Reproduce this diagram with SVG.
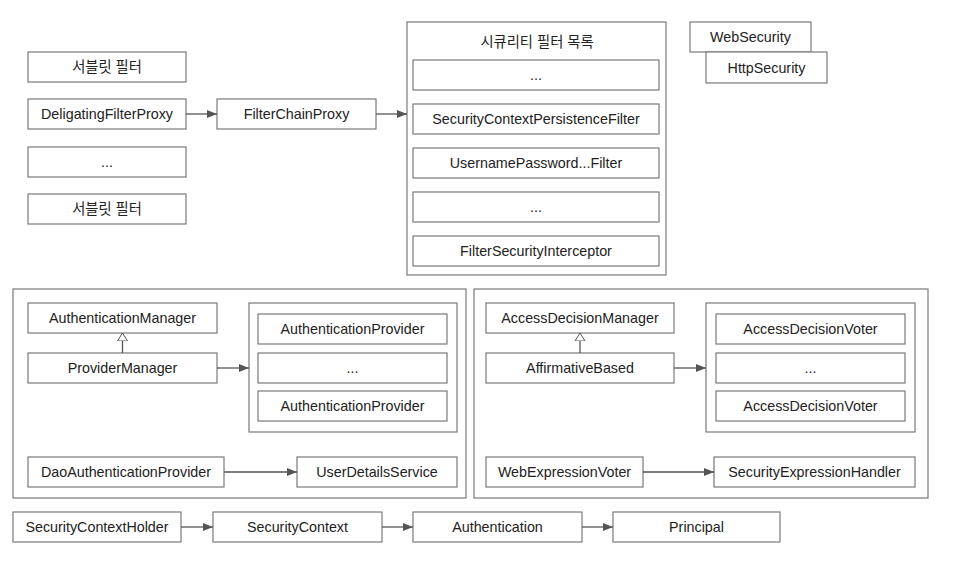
<svg xmlns="http://www.w3.org/2000/svg" width="957" height="574" viewBox="0 0 957 574">
  <style>
    .box { fill: #ffffff; stroke: #7a7a7a; stroke-width: 1.2; }
    .frame { fill: none; stroke: #7a7a7a; stroke-width: 1.2; }
    .lbl { font-family: "Liberation Sans", Arial, "Noto Sans CJK KR", sans-serif; font-size: 14.3px; fill: #222222; text-anchor: middle; dominant-baseline: central; }
    .edge { fill: none; stroke: #555555; stroke-width: 1.3; }
  </style>
  <defs>
    <marker id="arrow" viewBox="0 0 10 8" refX="10" refY="4" markerWidth="10" markerHeight="8" markerUnits="userSpaceOnUse" orient="auto">
      <path d="M0,0 L10,4 L0,8 Z" fill="#555555"/>
    </marker>
    <marker id="inherit" viewBox="0 0 8 12" refX="8" refY="6" markerWidth="8" markerHeight="12" markerUnits="userSpaceOnUse" orient="auto">
      <path d="M0,1 L8,6 L0,11 Z" fill="#ffffff" stroke="#555555" stroke-width="1"/>
    </marker>
  </defs>

  <rect width="957" height="574" fill="#ffffff"/>

  <!-- servlet filter chain -->
  <g id="servlet-filter-1"><rect class="box" x="28" y="52" width="158" height="30"/><text class="lbl" x="107" y="67">서블릿 필터</text></g>
  <g id="delegating-filter-proxy"><rect class="box" x="28" y="99" width="158" height="30"/><text class="lbl" x="107" y="114">DeligatingFilterProxy</text></g>
  <g id="servlet-filter-etc"><rect class="box" x="28" y="147" width="158" height="30"/><text class="lbl" x="107" y="162">...</text></g>
  <g id="servlet-filter-2"><rect class="box" x="28" y="194" width="158" height="30"/><text class="lbl" x="107" y="209">서블릿 필터</text></g>
  <g id="filter-chain-proxy"><rect class="box" x="217" y="99" width="159" height="30"/><text class="lbl" x="296.5" y="114">FilterChainProxy</text></g>

  <!-- security filter list -->
  <g id="security-filters">
    <rect class="frame" x="407" y="22" width="259" height="253"/>
    <text class="lbl" x="537" y="42">시큐리티 필터 목록</text>
  </g>
  <g id="sf-etc-1"><rect class="box" x="413" y="60" width="246" height="30"/><text class="lbl" x="536" y="75">...</text></g>
  <g id="sf-persistence"><rect class="box" x="413" y="104" width="246" height="30"/><text class="lbl" x="536" y="119">SecurityContextPersistenceFilter</text></g>
  <g id="sf-username"><rect class="box" x="413" y="148" width="246" height="30"/><text class="lbl" x="536" y="163">UsernamePassword...Filter</text></g>
  <g id="sf-etc-2"><rect class="box" x="413" y="192" width="246" height="30"/><text class="lbl" x="536" y="207">...</text></g>
  <g id="sf-interceptor"><rect class="box" x="413" y="236" width="246" height="30"/><text class="lbl" x="536" y="251">FilterSecurityInterceptor</text></g>

  <!-- configuration -->
  <g id="web-security"><rect class="box" x="690" y="22" width="121" height="30"/><text class="lbl" x="750.5" y="37">WebSecurity</text></g>
  <g id="http-security"><rect class="box" x="706" y="52" width="121" height="31"/><text class="lbl" x="766.5" y="68">HttpSecurity</text></g>

  <!-- authentication -->
  <g id="authentication-area"><rect class="frame" x="13" y="289" width="453" height="209"/></g>
  <g id="authentication-manager"><rect class="box" x="28" y="303" width="189" height="30"/><text class="lbl" x="122.5" y="318">AuthenticationManager</text></g>
  <g id="provider-manager"><rect class="box" x="28" y="353" width="189" height="30"/><text class="lbl" x="122.5" y="368">ProviderManager</text></g>
  <g id="providers"><rect class="frame" x="249" y="303" width="208" height="129"/></g>
  <g id="auth-provider-1"><rect class="box" x="258" y="314" width="189" height="30"/><text class="lbl" x="352.5" y="329">AuthenticationProvider</text></g>
  <g id="auth-provider-etc"><rect class="box" x="258" y="353" width="189" height="30"/><text class="lbl" x="352.5" y="368">...</text></g>
  <g id="auth-provider-2"><rect class="box" x="258" y="391" width="189" height="30"/><text class="lbl" x="352.5" y="406">AuthenticationProvider</text></g>
  <g id="dao-auth-provider"><rect class="box" x="28" y="457" width="196" height="30"/><text class="lbl" x="126" y="472">DaoAuthenticationProvider</text></g>
  <g id="user-details-service"><rect class="box" x="297" y="457" width="160" height="30"/><text class="lbl" x="377" y="472">UserDetailsService</text></g>

  <!-- authorization -->
  <g id="authorization-area"><rect class="frame" x="474" y="289" width="454" height="209"/></g>
  <g id="access-decision-manager"><rect class="box" x="486" y="303" width="188" height="30"/><text class="lbl" x="580" y="318">AccessDecisionManager</text></g>
  <g id="affirmative-based"><rect class="box" x="486" y="353" width="188" height="30"/><text class="lbl" x="580" y="368">AffirmativeBased</text></g>
  <g id="voters"><rect class="frame" x="706" y="303" width="209" height="129"/></g>
  <g id="voter-1"><rect class="box" x="716" y="314" width="189" height="30"/><text class="lbl" x="810.5" y="329">AccessDecisionVoter</text></g>
  <g id="voter-etc"><rect class="box" x="716" y="353" width="189" height="30"/><text class="lbl" x="810.5" y="368">...</text></g>
  <g id="voter-2"><rect class="box" x="716" y="391" width="189" height="30"/><text class="lbl" x="810.5" y="406">AccessDecisionVoter</text></g>
  <g id="web-expression-voter"><rect class="box" x="486" y="457" width="157" height="30"/><text class="lbl" x="564.5" y="472">WebExpressionVoter</text></g>
  <g id="security-expression-handler"><rect class="box" x="714" y="457" width="201" height="30"/><text class="lbl" x="814.5" y="472">SecurityExpressionHandler</text></g>

  <!-- security context chain -->
  <g id="security-context-holder"><rect class="box" x="13" y="512" width="168" height="30"/><text class="lbl" x="97" y="527">SecurityContextHolder</text></g>
  <g id="security-context"><rect class="box" x="213" y="512" width="169" height="30"/><text class="lbl" x="297.5" y="527">SecurityContext</text></g>
  <g id="authentication"><rect class="box" x="413" y="512" width="169" height="30"/><text class="lbl" x="497.5" y="527">Authentication</text></g>
  <g id="principal"><rect class="box" x="613" y="512" width="167" height="30"/><text class="lbl" x="696.5" y="527">Principal</text></g>

  <!-- connectors -->
  <g id="connectors">
    <line class="edge" x1="186" y1="114" x2="217" y2="114" marker-end="url(#arrow)"/>
    <line class="edge" x1="376" y1="114" x2="407" y2="114" marker-end="url(#arrow)"/>
    <line class="edge" x1="122.5" y1="353" x2="122.5" y2="333" marker-end="url(#inherit)"/>
    <line class="edge" x1="217" y1="368" x2="249" y2="368" marker-end="url(#arrow)"/>
    <line class="edge" x1="224" y1="472" x2="297" y2="472" marker-end="url(#arrow)"/>
    <line class="edge" x1="580" y1="353" x2="580" y2="333" marker-end="url(#inherit)"/>
    <line class="edge" x1="674" y1="368" x2="706" y2="368" marker-end="url(#arrow)"/>
    <line class="edge" x1="643" y1="472" x2="714" y2="472" marker-end="url(#arrow)"/>
    <line class="edge" x1="181" y1="527" x2="213" y2="527" marker-end="url(#arrow)"/>
    <line class="edge" x1="382" y1="527" x2="413" y2="527" marker-end="url(#arrow)"/>
    <line class="edge" x1="582" y1="527" x2="613" y2="527" marker-end="url(#arrow)"/>
  </g>
</svg>
